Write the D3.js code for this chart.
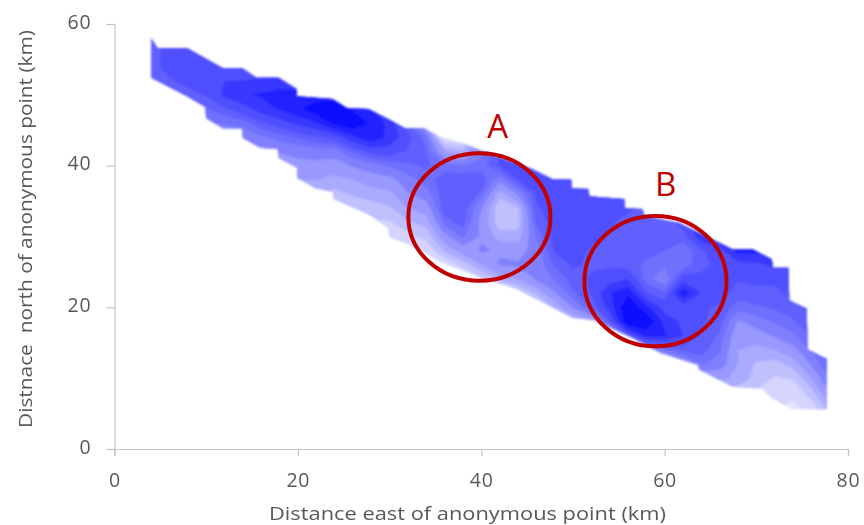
<!DOCTYPE html>
<html>
<head>
<meta charset="utf-8">
<script src="https://cdn.jsdelivr.net/npm/d3@7"></script>
<style>
  body { margin: 0; background: #fff; }
  text { font-family: "Open Sans", sans-serif; }
</style>
</head>
<body>
<div id="chart"></div>
<script>
// grid columns, 2 km apart, each with the north value of its first level
const eastKm = [4,6,8,10,12,14,16,18,20,22,24,26,28,30,32,34,36,38,40,42,44,46,48,50,52,54,56,58,60,62,64,66,68,70,72,74,76,78]
const firstNorthKm = [50,48,46,44,44,42,40,38,36,34,34,32,30,28,26,26,24,24,22,20,20,18,18,16,16,14,14,12,10,10,8,8,6,6,4,4,4,4]

// shade per column going north every 2 km, 0 is white and 10 is full blue
const levels = [
  [6,6,6.2,6.2,6.2,6.2],
  [5.5,6,6.4,6.8,6.8,6.8],
  [5,5.5,6.2,6.8,6.8,6.8,6.8],
  [5,5.2,5.8,6.6,7,6.8,6.8],
  [4.6,5.4,6.4,7.6,7.4,6.8,6.8],
  [4,4.6,5.6,7,8.2,7.4,6.8],
  [4,4.2,5.2,6.4,7.8,8.4,7.6,6.8],
  [3.8,3.8,4.6,5.6,7,8.4,8.6,7.8],
  [3.4,3.6,4.2,4.8,6,7.6,9,8.6,7.8],
  [2.8,3.2,3.6,4.2,5,6.4,8.2,9.8,8.6],
  [2.2,2.6,3.4,4,5,6.8,9.4,10,8.6],
  [2,2.4,3,3.6,4.6,6,8,10,9,8.4],
  [1.5,2,2.6,3.2,4,5,6.8,9,9,8.4],
  [1,1.4,2,2.8,3.4,4.2,5.4,7,8,8,7.6],
  [0.6,1,1.8,2.8,3.6,4.4,5,5.8,6.4,6.8,6],
  [0.6,1.4,2.4,3.2,4,5,5.6,6,6,5.6,3.5,2],
  [0.4,1.2,3,4.2,5.6,6.3,6.3,6.3,5.6,3.6,1],
  [1,2.4,4,5.4,6.2,6.4,6.4,6.4,5.4,3,1],
  [0.8,2,3.6,4.6,4.4,4.2,4.6,5.8,6.4,5.6,5],
  [0.4,1.4,3,4.6,4.4,3.2,2.5,2.3,3.2,4.8,6.6,6.6],
  [1,2,3.6,4.6,4.2,3.2,2.6,2.8,4.6,6.6,6.8,7],
  [0.8,1.6,3,4.6,4.8,4.8,5.4,6,6.4,6.6,7,7],
  [1.4,3,4.4,5.4,6,6.6,6.8,6.8,6.9,6.9,6.9,6.9],
  [1.5,2.6,4.6,5.8,6.2,6.6,6.8,6.9,6.9,6.9,6.9,6.9],
  [1.5,3.5,6,6.6,6.6,6.4,6.4,6.8,6.9,6.9,6.9],
  [1,3,6.4,7.8,8.2,7,6.4,6.3,6.4,6.6,6.9,6.9],
  [2,6.5,10,10,9,7.4,6.2,6.2,6.2,6.3,6.6],
  [1,4.5,8.5,10,8.6,6.6,5.6,5.8,6.1,6.2,6.2,6.4],
  [1,2.4,5.5,8.4,8,7,6,4.8,5.4,5.9,6.1,6.2],
  [2,4,6.2,7.4,7.2,6.8,9,7,5.4,5.4,6.2,6.8],
  [1,3.6,5.4,6.2,6.4,6.6,6.6,7.4,6.6,6.4,6.4,8],
  [2,3.8,5,5.4,5.8,6.2,6.4,6.8,6.6,6.6,7,8.6],
  [1,2.5,3.4,3.6,3.6,3.8,4.4,5.6,6.2,6.6,7,8.6],
  [1.5,2,2.6,2.8,3.4,4,5,5.8,6.4,6.6,7.2,8.6],
  [1,1.4,1.6,2,2.6,3.6,4.6,5.4,6,6.4,6.6,7.6],
  [0.6,1,1.4,2.2,3.2,4.2,5.2,5.8,6.4,6.6,6.6],
  [1,1.6,2.6,3.6,4.6,5.4,6,6.4,6.6],
  [3,3.4,4.4,5.4,6,6.6,6.6]
]

// outline of the surveyed area as [east, north] in km
const northEdge = [[4,58],[4.7,56.6],[7.9,56.6],[11.8,53.8],[13.9,53.8],[15.5,52.4],[17.9,52.4],[19.9,50.8],[19.9,49.8],[23.8,49.4],[25.4,48.1],[27.7,48],[29.7,46.7],[31.7,45.3],[33.8,45.3],[35.5,44],[38,43.2],[39.8,42.2],[45.6,39.5],[47.8,38.1],[49.8,38.1],[49.9,36.8],[51.7,36.7],[51.8,35.7],[55.6,35.3],[55.7,34],[57.6,33.9],[57.8,32.9],[61.6,31.9],[67.4,28.2],[69.6,28.2],[71.7,26.8],[71.8,25.6],[73.5,25.6],[73.6,21],[75.5,19.8],[75.6,14.1],[77.7,12.7],[77.7,5.6]]
const southEdge = [[4,52.4],[7.9,49.8],[9.9,48.3],[10,46.7],[11.8,45.3],[13.9,45.2],[14,43.9],[15.9,42.5],[17.8,42.4],[17.9,41.1],[19.9,39.7],[19.9,38.3],[21.9,36.8],[23.8,36.3],[23.9,35.3],[27.9,33],[29.8,31.2],[30,29.9],[33,28.4],[35.5,26.4],[39.8,24.3],[43.9,22.6],[45.8,21.3],[50,18.5],[52.2,18.2],[56.5,15.7],[59.5,13.6],[63.6,11.9],[63.8,11.2],[67.4,8.8],[70.6,8.5],[71.7,7.2],[73.9,5.6],[77.7,5.6]]

// circled areas, all in km
const areaNames = ["A", "B"]
const areaEast = [39.8, 59]
const areaNorth = [32.75, 23.7]
const areaRadiusEast = [7.75, 7.75]
const areaRadiusNorth = [9, 9.2]
const labelEast = [41.8, 60.1]
const labelNorth = [43.9, 35.7]

const xTicks = [0, 20, 40, 60, 80]
const yTicks = [0, 20, 40, 60]

// contour breaks and the blue each band is painted with
const shadeSteps = [0.3,0.7,1.2,2.1,2.9,3.6,4.5,5.3,5.9,6.5,7.4,8.3,9.2]
const shadeFills = ["#eeeeff","#e4e4ff","#d4d4ff","#c0c0ff","#aaaaff","#9898ff","#8080ff","#7070ff","#6060ff","#5050ff","#3838ff","#2020ff","#0808ff"]

const width = 864
const height = 525
const margin = {l: 114.5, r: 16, t: 24, b: 76}

const svg = d3.select("#chart").append("svg")
    .attr("width", width)
    .attr("height", height)
    .style("display", "block")

const scaleX = d3.scaleLinear().domain([0, 80]).range([margin.l, width - margin.r])
const scaleY = d3.scaleLinear().domain([0, 60]).range([height - margin.b, margin.t])
const shade = d3.scaleOrdinal().domain(shadeSteps).range(shadeFills)

// slight softening, the reference is an enlarged bitmap
const defs = svg.append("defs")
defs.append("filter").attr("id", "soft")
    .append("feGaussianBlur").attr("stdDeviation", 1)
defs.append("filter").attr("id", "softText")
    .append("feGaussianBlur").attr("stdDeviation", 0.35)

const outline = northEdge.concat(southEdge.slice().reverse())
const line = d3.line().x(d => scaleX(d[0])).y(d => scaleY(d[1]))
defs.append("clipPath").attr("id", "area")
    .append("path").attr("d", line(outline) + "Z")

// fill the grid, cells beyond a column's ends repeat its last level
const southKm = 4
const northKm = 60
const rowCount = (northKm - southKm) / 2 + 1
const grid = []
for (let r = 0; r < rowCount; r++) {
    eastKm.forEach(function(e, c) {
        let i = (southKm + r * 2 - firstNorthKm[c]) / 2
        i = Math.max(0, Math.min(levels[c].length - 1, i))
        grid.push(levels[c][i])
    })
}

const contours = d3.contours()
    .size([eastKm.length, rowCount])
    .thresholds(shadeSteps)(grid)

// contour coordinates are grid cells, cell centres sit at +0.5
const project = d3.geoTransform({
    point: function(px, py) {
        this.stream.point(scaleX(eastKm[0] + (px - 0.5) * 2), scaleY(southKm + (py - 0.5) * 2))
    }
})
const path = d3.geoPath(project)

const field = svg.append("g").attr("filter", "url(#soft)")
    .append("g").attr("clip-path", "url(#area)")

field.selectAll("path")
    .data(contours)
    .enter().append("path")
    .attr("d", path)
    .attr("fill", d => shade(d.value))

// axes
const axisX = d3.axisBottom(scaleX).tickValues(xTicks).tickSize(7).tickPadding(17)
const axisY = d3.axisLeft(scaleY).tickValues(yTicks).tickSize(8).tickPadding(15)

const gx = svg.append("g")
    .attr("transform", `translate(0,${scaleY(0)})`)
    .call(axisX)
const gy = svg.append("g")
    .attr("transform", `translate(${scaleX(0)},0)`)
    .call(axisY)

for (const g of [gx, gy]) {
    g.selectAll("path, line").attr("stroke", "#c4c4c4").attr("stroke-width", 1.2)
    g.selectAll("text")
        .attr("fill", "#595959")
        .attr("filter", "url(#softText)")
        .style("font-family", '"Open Sans", sans-serif')
        .style("font-size", "19.5px")
        .style("letter-spacing", "0.8px")
}
gy.selectAll("text").attr("y", -2)

svg.append("text")
    .attr("x", 467.5)
    .attr("y", 520)
    .attr("text-anchor", "middle")
    .attr("fill", "#595959")
    .attr("filter", "url(#softText)")
    .attr("textLength", 397)
    .attr("lengthAdjust", "spacingAndGlyphs")
    .style("font-size", "19px")
    .text("Distance east of anonymous point (km)")

svg.append("text")
    .attr("transform", "translate(32,229) rotate(-90)")
    .attr("text-anchor", "middle")
    .attr("fill", "#595959")
    .attr("filter", "url(#softText)")
    .attr("textLength", 398)
    .attr("lengthAdjust", "spacingAndGlyphs")
    .style("font-size", "19px")
    .style("white-space", "pre")
    .text("Distnace  north of anonymous point (km)")

// circled areas and their letters
areaNames.forEach(function(name, i) {
    svg.append("ellipse")
        .attr("cx", scaleX(areaEast[i]))
        .attr("cy", scaleY(areaNorth[i]))
        .attr("rx", scaleX(areaRadiusEast[i]) - scaleX(0))
        .attr("ry", scaleY(0) - scaleY(areaRadiusNorth[i]))
        .attr("fill", "none")
        .attr("stroke", "#c00000")
        .attr("stroke-width", 4)
    svg.append("text")
        .attr("x", scaleX(labelEast[i]))
        .attr("y", scaleY(labelNorth[i]))
        .attr("text-anchor", "middle")
        .attr("fill", "#c00000")
        .style("font-size", "33px")
        .text(name)
})
</script>
</body>
</html>
